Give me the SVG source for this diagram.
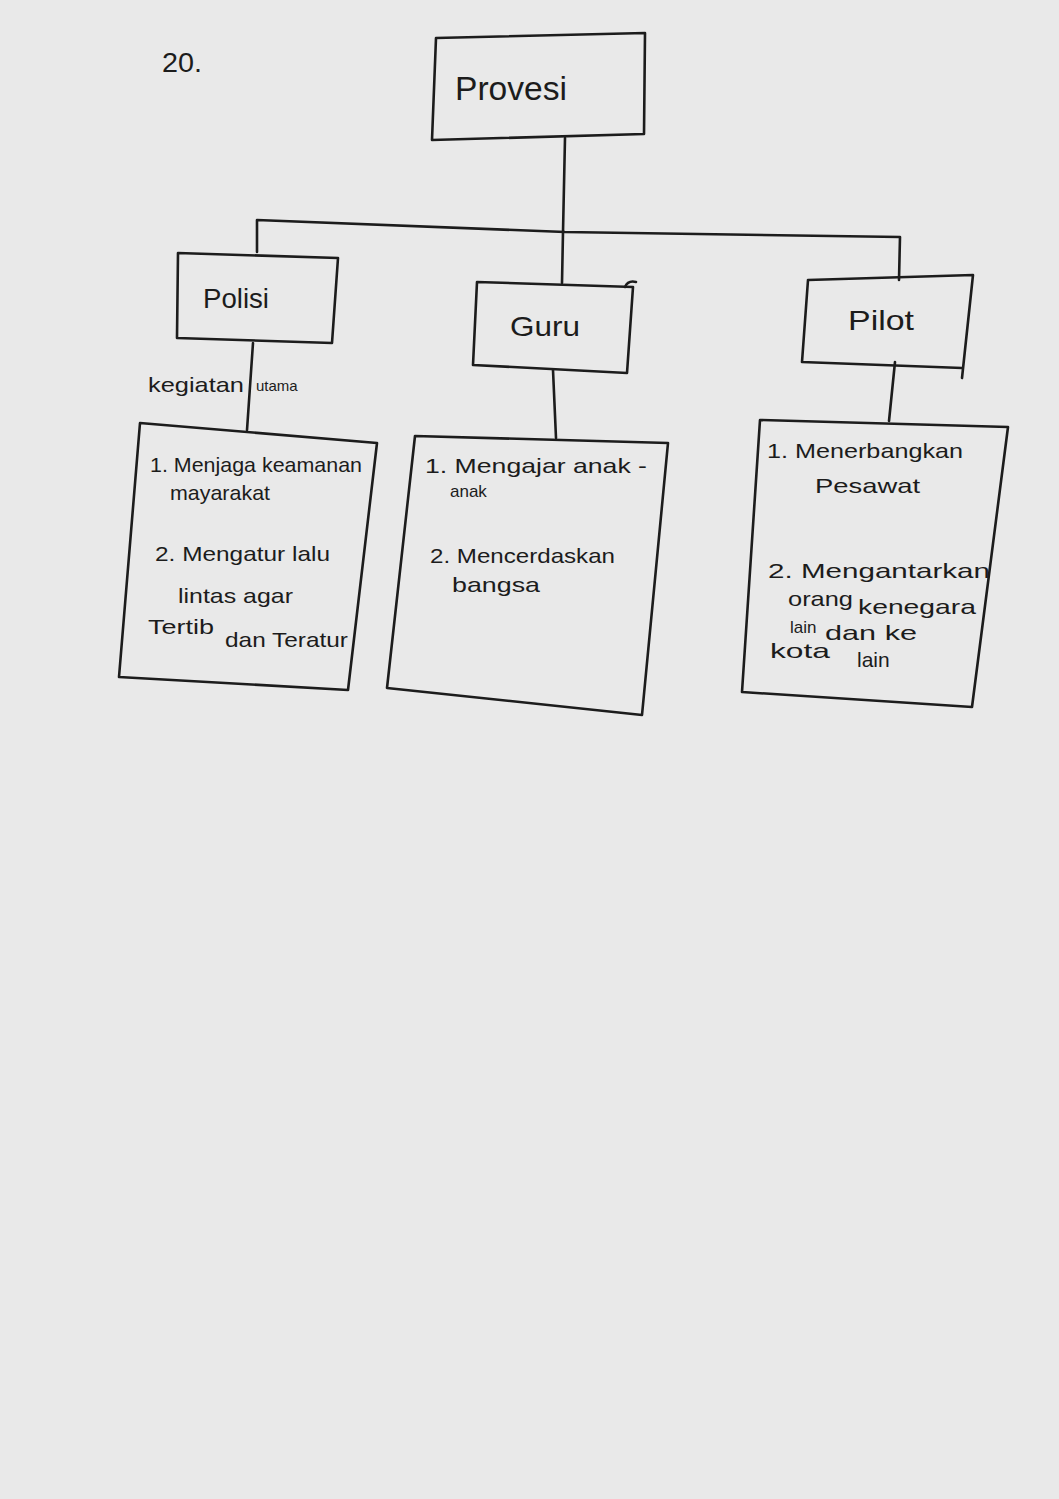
<svg xmlns="http://www.w3.org/2000/svg" width="1059" height="1499" viewBox="0 0 1059 1499">
  <style>
    .ink { fill: none; stroke: #1c1c1c; stroke-width: 2.6; stroke-linecap: round; stroke-linejoin: round; }
    .hand { font-family: "Liberation Sans", "DejaVu Sans", sans-serif; fill: #1c1c1c; }
    .big { font-size: 34px; }
    .mid { font-size: 28px; }
    .small { font-size: 21px; }
    .tiny { font-size: 17px; }
  </style>

  <!-- paper -->
  <rect x="0" y="0" width="1059" height="1499" fill="#e9e9e9"/>

  <!-- question number -->
  <text class="hand mid" x="162" y="72" textLength="40" lengthAdjust="spacingAndGlyphs">20.</text>

  <!-- connectors -->
  <g id="connectors" class="ink">
    <!-- Provesi down to the branch bar -->
    <path d="M565 138 L563 232"/>
    <!-- branch bar -->
    <path d="M257 252 L257 220 L565 232 L900 237 L899 280"/>
    <!-- bar down to Guru -->
    <path d="M563 232 L562 283"/>
    <!-- role boxes down to their duty boxes -->
    <path d="M253 343 L247 430"/>
    <path d="M553 370 L556 438"/>
    <path d="M895 362 L889 421"/>
  </g>

  <g id="provesi">
    <path class="ink" d="M436 38 L645 33 L644 134 L432 140 Z"/>
    <text class="hand big" x="455" y="100" textLength="112" lengthAdjust="spacingAndGlyphs">Provesi</text>
  </g>

  <g id="polisi">
    <path class="ink" d="M178 253 L338 258 L332 343 L177 338 Z"/>
    <text class="hand mid" x="203" y="308" textLength="66" lengthAdjust="spacingAndGlyphs">Polisi</text>
  </g>

  <g id="guru">
    <path class="ink" d="M477 282 L633 287 L627 373 L473 365 Z"/>
    <path class="ink" d="M625 287 Q628 280 636 282"/>
    <text class="hand mid" x="510" y="336" textLength="70" lengthAdjust="spacingAndGlyphs">Guru</text>
  </g>

  <g id="pilot">
    <path class="ink" d="M808 280 L973 275 L962 378 M962 368 L802 362 L808 280"/>
    <text class="hand mid" x="848" y="330" textLength="66" lengthAdjust="spacingAndGlyphs">Pilot</text>
  </g>

  <g id="label-kegiatan">
    <text class="hand small" x="148" y="392" textLength="96" lengthAdjust="spacingAndGlyphs">kegiatan</text>
    <text class="hand" font-size="15" x="256" y="391">utama</text>
  </g>

  <g id="tugas-polisi">
    <path class="ink" d="M140 423 L377 443 L348 690 L119 677 Z"/>
    <text class="hand small" x="150" y="472" textLength="212" lengthAdjust="spacingAndGlyphs">1. Menjaga keamanan</text>
    <text class="hand small" x="170" y="500" textLength="100" lengthAdjust="spacingAndGlyphs">mayarakat</text>
    <text class="hand small" x="155" y="561" textLength="175" lengthAdjust="spacingAndGlyphs">2. Mengatur lalu</text>
    <text class="hand small" x="178" y="603" textLength="115" lengthAdjust="spacingAndGlyphs">lintas agar</text>
    <text class="hand small" x="148" y="634" textLength="66" lengthAdjust="spacingAndGlyphs">Tertib</text>
    <text class="hand small" x="225" y="647" textLength="123" lengthAdjust="spacingAndGlyphs">dan Teratur</text>
  </g>

  <g id="tugas-guru">
    <path class="ink" d="M415 436 L668 443 L642 715 L387 688 Z"/>
    <text class="hand small" x="425" y="473" textLength="222" lengthAdjust="spacingAndGlyphs">1. Mengajar anak -</text>
    <text class="hand tiny" x="450" y="497">anak</text>
    <text class="hand small" x="430" y="563" textLength="185" lengthAdjust="spacingAndGlyphs">2. Mencerdaskan</text>
    <text class="hand small" x="452" y="592" textLength="88" lengthAdjust="spacingAndGlyphs">bangsa</text>
  </g>

  <g id="tugas-pilot">
    <path class="ink" d="M760 420 L1008 427 L972 707 L742 692 Z"/>
    <text class="hand small" x="767" y="458" textLength="196" lengthAdjust="spacingAndGlyphs">1. Menerbangkan</text>
    <text class="hand small" x="815" y="493" textLength="105" lengthAdjust="spacingAndGlyphs">Pesawat</text>
    <text class="hand small" x="768" y="578" textLength="222" lengthAdjust="spacingAndGlyphs">2. Mengantarkan</text>
    <text class="hand small" x="788" y="606" textLength="65" lengthAdjust="spacingAndGlyphs">orang</text>
    <text class="hand small" x="858" y="614" textLength="118" lengthAdjust="spacingAndGlyphs">kenegara</text>
    <text class="hand tiny" x="790" y="633">lain</text>
    <text class="hand small" x="825" y="640" textLength="92" lengthAdjust="spacingAndGlyphs">dan ke</text>
    <text class="hand small" x="770" y="658" textLength="60" lengthAdjust="spacingAndGlyphs">kota</text>
    <text class="hand small" x="857" y="667">lain</text>
  </g>
</svg>
